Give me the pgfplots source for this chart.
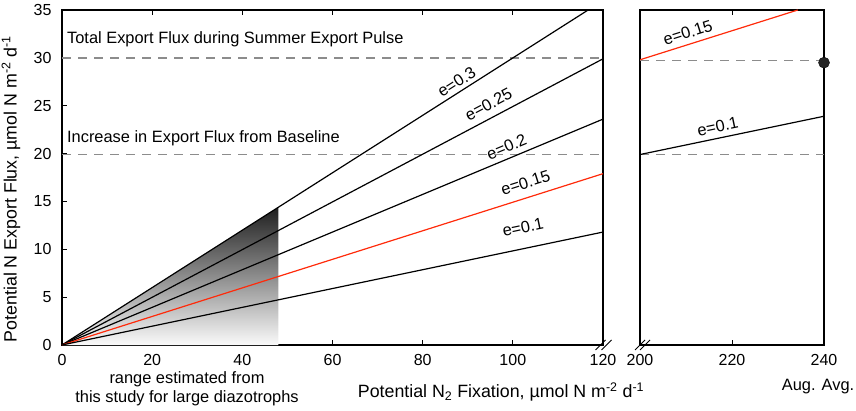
\documentclass[border=0pt]{standalone}
\usepackage{fontspec}
\setmainfont{Liberation Sans}
\usepackage{pgfplots}
\pgfplotsset{compat=1.18}
\definecolor{dashgray}{HTML}{8C8C8C}
\definecolor{myred}{HTML}{FF2A0A}
\newcommand\txt{\fontsize{16.4}{19}\selectfont}
\newcommand\lab{\fontsize{17.8}{20}\selectfont}
\tikzset{
  elab/.style={sloped, inner sep=2pt, font=\txt},
}
\pgfplotsset{
  mystyle/.style={
    scale only axis, height=335pt, ymin=0, ymax=35,
    anchor=south west,
    axis line style={line width=1.1pt},
    tick align=inside, major tick length=5pt,
    every tick/.style={black, line width=0.9pt},
    tick label style={font=\fontsize{16}{18}\selectfont},
    /pgf/number format/assume math mode=true,
    xticklabel style={yshift=-6pt},
    yticklabel style={xshift=-7pt},
  },
  eline/.style={black, line width=1.2pt},
  dline/.style={dashgray, line width=1.3pt, dash pattern=on 9pt off 7pt},
}
\begin{document}
\begin{tikzpicture}
\useasboundingbox (-62pt,-65pt) rectangle (794pt,345pt);
\begin{axis}[mystyle, at={(0pt,0pt)}, width=541pt,
  xmin=0, xmax=120, xtick={0,20,...,120}, ytick={0,5,...,35}, ytick pos=left]
  \addplot[draw=none, top color=black!88, bottom color=black!2, forget plot]
    coordinates {(0,0) (48,14.4)} \closedcycle;
  \addplot[dline] coordinates {(0,30) (120,30)};
  \addplot[dline] coordinates {(0,19.9) (120,19.9)};
  \addplot[eline] coordinates {(0,0) (116.7,35)} node[elab, above=1.5pt, pos=0.76] {e=0.3};
  \addplot[eline] coordinates {(0,0) (120,29.9)} node[elab, above=5pt, pos=0.80] {e=0.25};
  \addplot[eline] coordinates {(0,0) (120,23.6)} node[elab, above=3.2pt, pos=0.83] {e=0.2};
  \addplot[myred, line width=1.2pt] coordinates {(0,0) (120,17.9)} node[elab, above=6.4pt, black, pos=0.865] {e=0.15};
  \addplot[eline] coordinates {(0,0) (120,11.8)} node[elab, above=12.7pt, pos=0.86] {e=0.1};
  \node[anchor=west, inner sep=0pt, font=\txt] at (axis cs:1.1,31.9) {Total Export Flux during Summer Export Pulse};
  \node[anchor=west, inner sep=0pt, font=\txt] at (axis cs:1.1,21.6) {Increase in Export Flux from Baseline};
\end{axis}
\begin{axis}[mystyle, at={(578pt,0pt)}, width=184pt,
  xmin=200, xmax=240, xtick={200,220,240}, ytick=\empty, clip mode=individual]
  \addplot[dline] coordinates {(200,29.7) (240,29.7)};
  \addplot[dline] coordinates {(200,19.9) (240,19.9)};
  \addplot[myred, line width=1.2pt] coordinates {(200,29.8) (234.3,35)} node[elab, above=3.2pt, black, pos=0.325] {e=0.15};
  \addplot[eline] coordinates {(200,19.9) (240,23.9)} node[elab, above=3.2pt, pos=0.435] {e=0.1};
  \addplot[only marks, mark=*, mark size=5.5pt, mark options={fill=black!85, draw=black}] coordinates {(240,29.5)};
\end{axis}
\draw[line width=0.9pt] (533.5pt,-5pt) -- (543.5pt,5pt) (539.5pt,-5pt) -- (549.5pt,5pt);
\draw[line width=0.9pt] (573pt,-5pt) -- (583pt,5pt) (578pt,-5pt) -- (588pt,5pt);
\node[rotate=90, font=\lab] at (-51pt,156pt) {Potential N Export Flux, µmol N m\textsuperscript{-2} d\textsuperscript{-1}};
\node[font=\lab] at (439pt,-47pt) {Potential N\textsubscript{2} Fixation, µmol N m\textsuperscript{-2} d\textsuperscript{-1}};
\node[font=\txt, align=center] at (125pt,-43.5pt) {range estimated from\\this study for large diazotrophs};
\node[font=\txt] at (756pt,-42pt) {Aug. Avg.};
\end{tikzpicture}
\end{document}
